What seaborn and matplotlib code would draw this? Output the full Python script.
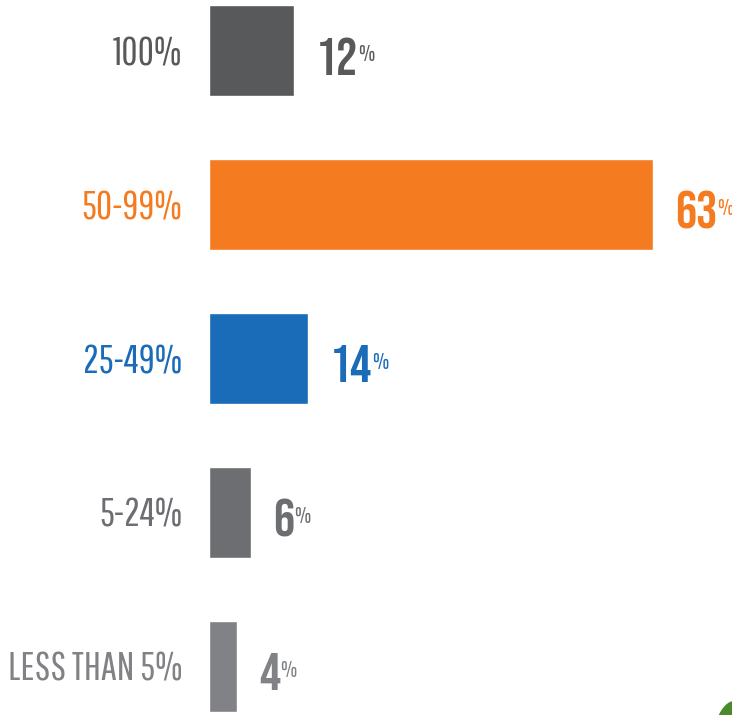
import matplotlib
matplotlib.use('Agg')
import matplotlib.pyplot as plt
import seaborn as sns
import pandas as pd
from matplotlib.patches import Ellipse

# data
categories = ['100%', '50-99%', '25-49%', '5-24%', 'LESS THAN 5%']
values = [12, 63, 14, 6, 4]
colors = ['#58595b', '#f47b20', '#1a6bb8', '#6d6e71', '#808285']

df = pd.DataFrame({'category': categories, 'value': values})

sns.set_theme(style='white')
plt.rcParams['font.family'] = ['Bebas Neue', 'DejaVu Sans']
thin = ['Pathway Gothic One', 'DejaVu Sans']

W, H = 732, 715
px_per_unit = 7.05
left_px = 209

fig = plt.figure(figsize=(W / 100, H / 100), dpi=100)
ax = fig.add_axes([left_px / W, 0, 1 - left_px / W, 1])

sns.barplot(data=df, x='value', y='category', hue='category', palette=colors,
            orient='h', width=0.59, dodge=False, legend=False, ax=ax,
            saturation=1)

ax.set_xlim(0, (W - left_px) / px_per_unit)
ax.set_ylim(4.317, -0.33)
for s in ax.spines.values():
    s.set_visible(False)
ax.set_xticks([])
ax.set_xlabel('')
ax.set_ylabel('')
ax.tick_params(axis='y', length=0, pad=19, labelsize=28.5)
for lbl, c in zip(ax.get_yticklabels(), colors):
    lbl.set_color(c)
    lbl.set_family(thin)

# value labels: big number + small raised percent sign
for i, (v, c) in enumerate(zip(values, colors)):
    t = ax.text(v + 22 / px_per_unit, i + 0.155, str(v), color=c, fontsize=38,
                ha='left', va='baseline')
    ax.annotate('%', xy=(1, 1), xycoords=t, xytext=(0, -5), textcoords='offset points',
                ha='left', va='top', color=c, fontsize=17, family=thin)

# bit of a green shape peeking in at the bottom right corner
fig.patches.append(Ellipse((0.995, -0.01), 0.03, 0.06, angle=-20,
                           transform=fig.transFigure, color='#4a8a2a', zorder=5))

fig.savefig('out.png', dpi=100)
